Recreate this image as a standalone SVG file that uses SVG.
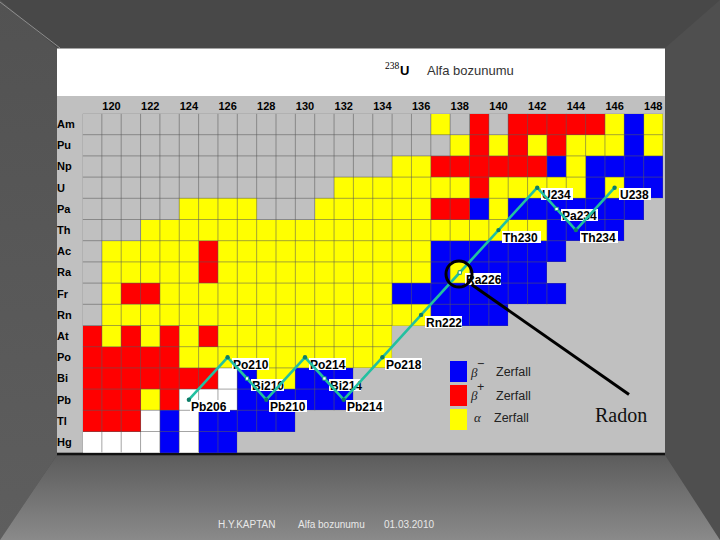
<svg xmlns="http://www.w3.org/2000/svg" width="720" height="540" viewBox="0 0 720 540">
<defs>
<style>
.y{fill:#ffff00}.r{fill:#ff0000}.b{fill:#0000f8}.w{fill:#ffffff}
.el{font-family:"Liberation Sans",Arial,sans-serif;font-weight:bold;font-size:11px;fill:#000}
.num{font-family:"Liberation Sans",Arial,sans-serif;font-weight:bold;font-size:11px;fill:#000;text-anchor:middle}
.lbl rect{fill:#fff}
.lbl text{font-family:"Liberation Sans",Arial,sans-serif;font-weight:bold;font-size:12px;fill:#000}
.leg{font-family:"Liberation Sans",Arial,sans-serif;font-size:12.5px;fill:#222}
.greek{font-family:"Liberation Serif","Times New Roman",serif;font-style:italic;font-size:13px;fill:#222}
.foot{font-family:"Liberation Sans",Arial,sans-serif;font-size:10px;fill:#e8e8e8}
.wm{fill:#fff;stroke:#1a9c84;stroke-width:0.8}
</style>
<linearGradient id="botg" x1="0" y1="0" x2="0" y2="1">
<stop offset="0" stop-color="#5c5c5c"/><stop offset="1" stop-color="#8a8a8a"/>
</linearGradient>
<linearGradient id="leftg" x1="0" y1="0" x2="0" y2="1">
<stop offset="0" stop-color="#525252"/><stop offset="1" stop-color="#5e5e5e"/>
</linearGradient>
<clipPath id="gc" clipPathUnits="userSpaceOnUse">
<polygon points="0,0 30,0 30,4 29,4 29,5 28,5 28,6 25,6 25,7 24,7 24,8 25,8 25,9 22,9 22,10 16,10 16,12 14,12 14,14 11,14 11,15 8,15 8,16 0,16"/>
</clipPath>
<marker id="vx" markerUnits="userSpaceOnUse" markerWidth="6" markerHeight="6" refX="3" refY="3" viewBox="0 0 6 6">
<circle cx="3" cy="3" r="2.2" fill="#0d7d68"/>
</marker>
</defs>

<!-- slide background -->
<g id="background">
<rect width="720" height="540" fill="#484848"/>
<polygon points="0,0 57,48 57,455 0,540" fill="url(#leftg)"/>
<polygon points="720,0 665,48 665,455 720,540" fill="#4f4f4f"/>
<polygon points="0,540 57,455 665,455 720,540" fill="url(#botg)"/>
<line x1="0" y1="2" x2="60" y2="48" stroke="#8e8e8e" stroke-width="1"/>
</g>

<!-- chart panel -->
<g id="panel">
<rect x="57" y="48.5" width="608" height="48" fill="#ffffff"/>
<rect x="57" y="96" width="608" height="357" fill="#c0c0c0"/>
<rect x="57" y="452.7" width="608" height="2.6" fill="#111"/>
</g>

<g id="title">
<text x="385" y="69" font-family="Liberation Serif,'Times New Roman',serif" font-size="9.5" fill="#000">238</text>
<text x="400" y="75" font-family="Liberation Sans,Arial,sans-serif" font-weight="bold" font-size="13" fill="#000">U</text>
<text x="427" y="75" font-family="Liberation Sans,Arial,sans-serif" font-size="13" fill="#333">Alfa bozunumu</text>
</g>

<g id="column-numbers">
<text class="num" x="111.5" y="110">120</text>
<text class="num" x="150.2" y="110">122</text>
<text class="num" x="188.9" y="110">124</text>
<text class="num" x="227.6" y="110">126</text>
<text class="num" x="266.3" y="110">128</text>
<text class="num" x="305" y="110">130</text>
<text class="num" x="343.7" y="110">132</text>
<text class="num" x="382.4" y="110">134</text>
<text class="num" x="421.1" y="110">136</text>
<text class="num" x="459.8" y="110">138</text>
<text class="num" x="498.5" y="110">140</text>
<text class="num" x="537.2" y="110">142</text>
<text class="num" x="575.9" y="110">144</text>
<text class="num" x="614.6" y="110">146</text>
<text class="num" x="653.3" y="110">148</text>
</g>

<g id="element-names">
<text class="el" x="57" y="128">Am</text>
<text class="el" x="57" y="149">Pu</text>
<text class="el" x="57" y="170">Np</text>
<text class="el" x="57" y="192">U</text>
<text class="el" x="57" y="213">Pa</text>
<text class="el" x="57" y="234">Th</text>
<text class="el" x="57" y="255">Ac</text>
<text class="el" x="57" y="276">Ra</text>
<text class="el" x="57" y="298">Fr</text>
<text class="el" x="57" y="319">Rn</text>
<text class="el" x="57" y="340">At</text>
<text class="el" x="57" y="361">Po</text>
<text class="el" x="57" y="382">Bi</text>
<text class="el" x="57" y="404">Pb</text>
<text class="el" x="57" y="425">Tl</text>
<text class="el" x="57" y="446">Hg</text>
</g>

<!-- nuclide grid in cell units: x = N-119, y = row -->
<g id="grid" transform="translate(82.5,113.5) scale(19.35,21.2)" shape-rendering="crispEdges">
<!-- Am -->
<rect class="y" x="18" y="0" width="1" height="1"/><rect class="r" x="20" y="0" width="1" height="1"/><rect class="r" x="22" y="0" width="5" height="1"/><rect class="y" x="27" y="0" width="1" height="1"/><rect class="b" x="28" y="0" width="1" height="1"/><rect class="y" x="29" y="0" width="1" height="1"/>
<!-- Pu -->
<rect class="y" x="19" y="1" width="1" height="1"/><rect class="r" x="20" y="1" width="1" height="1"/><rect class="y" x="21" y="1" width="1" height="1"/><rect class="r" x="22" y="1" width="1" height="1"/><rect class="y" x="23" y="1" width="1" height="1"/><rect class="r" x="24" y="1" width="1" height="1"/><rect class="y" x="25" y="1" width="3" height="1"/><rect class="b" x="28" y="1" width="1" height="1"/><rect class="y" x="29" y="1" width="1" height="1"/>
<!-- Np -->
<rect class="y" x="16" y="2" width="2" height="1"/><rect class="r" x="18" y="2" width="6" height="1"/><rect class="b" x="24" y="2" width="1" height="1"/><rect class="y" x="25" y="2" width="1" height="1"/><rect class="b" x="26" y="2" width="4" height="1"/>
<!-- U -->
<rect class="y" x="13" y="3" width="7" height="1"/><rect class="r" x="20" y="3" width="1" height="1"/><rect class="y" x="21" y="3" width="5" height="1"/><rect class="b" x="26" y="3" width="1" height="1"/><rect class="y" x="27" y="3" width="1" height="1"/><rect class="b" x="28" y="3" width="2" height="1"/>
<!-- Pa -->
<rect class="y" x="5" y="4" width="4" height="1"/><rect class="y" x="12" y="4" width="6" height="1"/><rect class="r" x="18" y="4" width="2" height="1"/><rect class="b" x="20" y="4" width="1" height="1"/><rect class="y" x="21" y="4" width="1" height="1"/><rect class="b" x="22" y="4" width="7" height="1"/>
<!-- Th -->
<rect class="y" x="3" y="5" width="21" height="1"/><rect class="b" x="24" y="5" width="4" height="1"/>
<!-- Ac -->
<rect class="y" x="1" y="6" width="5" height="1"/><rect class="r" x="6" y="6" width="1" height="1"/><rect class="y" x="7" y="6" width="11" height="1"/><rect class="b" x="18" y="6" width="7" height="1"/>
<!-- Ra -->
<rect class="y" x="1" y="7" width="5" height="1"/><rect class="r" x="6" y="7" width="1" height="1"/><rect class="y" x="7" y="7" width="11" height="1"/><rect class="b" x="18" y="7" width="1" height="1"/><rect class="y" x="19" y="7" width="1" height="1"/><rect class="b" x="20" y="7" width="4" height="1"/>
<!-- Fr -->
<rect class="y" x="1" y="8" width="1" height="1"/><rect class="r" x="2" y="8" width="2" height="1"/><rect class="y" x="4" y="8" width="12" height="1"/><rect class="b" x="16" y="8" width="9" height="1"/>
<!-- Rn -->
<rect class="y" x="1" y="9" width="17" height="1"/><rect class="b" x="18" y="9" width="4" height="1"/>
<!-- At -->
<rect class="r" x="0" y="10" width="1" height="1"/><rect class="y" x="1" y="10" width="1" height="1"/><rect class="r" x="2" y="10" width="1" height="1"/><rect class="y" x="3" y="10" width="1" height="1"/><rect class="r" x="4" y="10" width="1" height="1"/><rect class="y" x="5" y="10" width="1" height="1"/><rect class="r" x="6" y="10" width="1" height="1"/><rect class="y" x="7" y="10" width="9" height="1"/>
<!-- Po -->
<rect class="r" x="0" y="11" width="5" height="1"/><rect class="y" x="5" y="11" width="11" height="1"/>
<!-- Bi -->
<rect class="r" x="0" y="12" width="7" height="1"/><rect class="w" x="7" y="12" width="1" height="1"/><rect class="b" x="8" y="12" width="1" height="1"/><rect class="y" x="9" y="12" width="2" height="1"/><rect class="b" x="11" y="12" width="3" height="1"/>
<!-- Pb -->
<rect class="r" x="0" y="13" width="3" height="1"/><rect class="y" x="3" y="13" width="1" height="1"/><rect class="r" x="4" y="13" width="1" height="1"/><rect class="w" x="5" y="13" width="3" height="1"/><rect class="b" x="8" y="13" width="6" height="1"/>
<!-- Tl -->
<rect class="r" x="0" y="14" width="3" height="1"/><rect class="w" x="3" y="14" width="1" height="1"/><rect class="b" x="4" y="14" width="1" height="1"/><rect class="w" x="5" y="14" width="1" height="1"/><rect class="b" x="6" y="14" width="5" height="1"/>
<!-- Hg -->
<rect class="w" x="0" y="15" width="4" height="1"/><rect class="b" x="4" y="15" width="1" height="1"/><rect class="w" x="5" y="15" width="1" height="1"/><rect class="b" x="6" y="15" width="2" height="1"/>
<!-- grid lines -->
<path clip-path="url(#gc)" fill="none" stroke="#5a5a5a" stroke-opacity="0.55" stroke-width="1" vector-effect="non-scaling-stroke" shape-rendering="auto"
d="M0 0V16M1 0V16M2 0V16M3 0V16M4 0V16M5 0V16M6 0V16M7 0V16M8 0V16M9 0V16M10 0V16M11 0V16M12 0V16M13 0V16M14 0V16M15 0V16M16 0V16M17 0V16M18 0V16M19 0V16M20 0V16M21 0V16M22 0V16M23 0V16M24 0V16M25 0V16M26 0V16M27 0V16M28 0V16M29 0V16M30 0V16M0 0H30M0 1H30M0 2H30M0 3H30M0 4H30M0 5H30M0 6H30M0 7H30M0 8H30M0 9H30M0 10H30M0 11H30M0 12H30M0 13H30M0 14H30M0 15H30M0 16H30"/>
</g>

<!-- nuclide labels -->
<g id="labels">
<g class="lbl" id="lbl-U238"><rect x="619" y="188" width="32" height="12"/><text x="620" y="198.5">U238</text></g>
<g class="lbl" id="lbl-U234"><rect x="541" y="188" width="32" height="12"/><text x="542" y="198.5">U234</text></g>
<g class="lbl" id="lbl-Pa234"><rect x="561" y="209" width="37" height="12"/><text x="562" y="219.5">Pa234</text></g>
<g class="lbl" id="lbl-Th230"><rect x="502" y="231" width="39" height="12"/><text x="503" y="241.5">Th230</text></g>
<g class="lbl" id="lbl-Th234"><rect x="580" y="231" width="38" height="12"/><text x="581" y="241.5">Th234</text></g>
<g class="lbl" id="lbl-Ra226"><rect x="465" y="273" width="36" height="12"/><text x="466" y="283.5">Ra226</text></g>
<g class="lbl" id="lbl-Rn222"><rect x="425" y="316" width="37" height="12"/><text x="426" y="326.5">Rn222</text></g>
<g class="lbl" id="lbl-Po218"><rect x="385" y="358" width="37" height="12"/><text x="386" y="368.5">Po218</text></g>
<g class="lbl" id="lbl-Pb214"><rect x="346" y="400" width="38" height="12"/><text x="347" y="410.5">Pb214</text></g>
<g class="lbl" id="lbl-Bi214"><rect x="329" y="379" width="32" height="12"/><text x="330" y="389.5">Bi214</text></g>
<g class="lbl" id="lbl-Po214"><rect x="309" y="358" width="37" height="12"/><text x="310" y="368.5">Po214</text></g>
<g class="lbl" id="lbl-Pb210"><rect x="269" y="400" width="38" height="12"/><text x="270" y="410.5">Pb210</text></g>
<g class="lbl" id="lbl-Bi210"><rect x="251" y="379" width="33" height="12"/><text x="252" y="389.5">Bi210</text></g>
<g class="lbl" id="lbl-Po210"><rect x="232" y="358" width="37" height="12"/><text x="233" y="368.5">Po210</text></g>
<g class="lbl" id="lbl-Pb206"><rect x="190" y="400" width="40" height="12"/><text x="191" y="410.5">Pb206</text></g>
</g>

<!-- decay chain connectors -->
<g id="connectors">
<polyline fill="none" stroke="#22c0a0" stroke-width="2.6" stroke-linejoin="round" marker-start="url(#vx)" marker-mid="url(#vx)" marker-end="url(#vx)"
points="614.6,187.7 575.9,230.1 556.6,208.9 537.2,187.7 498.5,230.1 459.8,272.5 421.1,314.9 382.4,357.3 343.7,399.7 324.4,378.5 305,357.3 266.3,399.7 247,378.5 227.6,357.3 188.9,399.7"/>
<rect class="wm" x="555" y="207.3" width="3.2" height="3.2"/>
<rect class="wm" x="458.2" y="270.9" width="3.2" height="3.2"/>
<rect class="wm" x="322.8" y="376.9" width="3.2" height="3.2"/>
<rect class="wm" x="245.4" y="376.9" width="3.2" height="3.2"/>
<line x1="471.5" y1="284.5" x2="629" y2="394.5" stroke="#000" stroke-width="3"/>
</g>

<g id="radon-marker">
<circle cx="459" cy="274" r="13" fill="none" stroke="#000" stroke-width="3"/>
<text x="595" y="422" font-family="Liberation Serif,'Times New Roman',serif" font-size="20" fill="#111">Radon</text>
</g>

<g id="legend">
<rect class="b" x="450" y="361" width="17" height="21"/>
<rect class="r" x="450" y="385" width="17" height="21"/>
<rect class="y" x="450" y="409" width="17" height="21"/>
<text class="greek" x="471" y="377">β</text><text class="leg" x="477" y="368" font-size="10">−</text>
<text class="leg" x="496" y="376">Zerfall</text>
<text class="greek" x="471" y="400">β</text><text class="leg" x="477" y="391" font-size="9">+</text>
<text class="leg" x="496" y="400">Zerfall</text>
<text class="greek" x="474" y="422" font-style="normal" font-size="12">α</text>
<text class="leg" x="494" y="422">Zerfall</text>
</g>

<g id="footer">
<text class="foot" x="218" y="528">H.Y.KAPTAN</text>
<text class="foot" x="298" y="528">Alfa bozunumu</text>
<text class="foot" x="384" y="528">01.03.2010</text>
</g>
</svg>
